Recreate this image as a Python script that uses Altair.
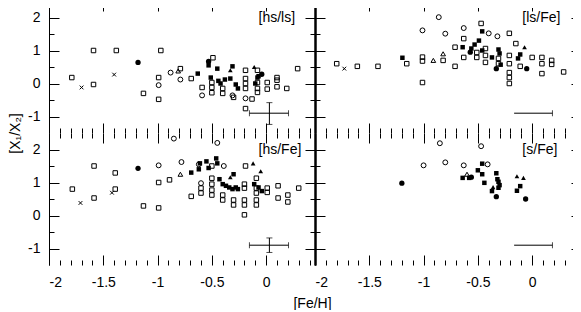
import altair as alt
import pandas as pd

FONT = "Liberation Sans"

# ---------------- data : ([Fe/H], [X1/X2]) pairs, per panel and symbol ----------------
# panel [hs/ls]
hsls_open_sq = [(-1.79, 0.18), (-1.59, 1.0), (-1.59, -0.03), (-1.38, 1.0), (-0.97, 1.0), (-1.13, -0.30),
                (-0.99, 0.18), (-0.99, -0.48), (-0.79, 0.45), (-0.69, 0.15), (-0.59, -0.12), (-0.49, 0.78),
                (-0.50, 0.03), (-0.50, -0.12), (-0.50, -0.28), (-0.40, -0.15), (-0.40, -0.30), (-0.30, -0.42),
                (-0.19, 0.40), (-0.19, 0.15), (-0.19, 0.0), (-0.19, -0.15), (-0.19, -0.76), (-0.08, 0.03),
                (-0.08, -0.15), (-0.08, -0.27), (-0.13, -0.47), (0.01, 0.03), (0.01, -0.17), (0.10, 0.18),
                (0.10, 0.10), (0.10, -0.10), (0.19, -0.15), (0.29, 0.45), (-0.08, 0.40)]
hsls_open_circ = [(-0.88, 0.33), (-0.99, -0.05), (-0.79, 0.12), (-0.59, -0.36), (-0.31, -0.36), (-0.19, -0.45)]
hsls_filled_circ = [(-1.18, 0.64), (-0.53, 0.67), (-0.04, 0.28)]
hsls_filled_sq = [(-0.63, 0.30), (-0.45, 0.45), (-0.51, 0.18), (-0.44, 0.08), (-0.42, 0.0), (-0.38, 0.12),
                  (-0.33, 0.15), (-0.28, -0.03), (-0.26, -0.15), (-0.08, 0.18), (-0.31, 0.52), (-0.53, 0.55),
                  (-0.10, 0.0), (-0.07, 0.22)]
hsls_filled_tri = [(-0.33, 0.40), (-0.11, 0.50)]
hsls_open_tri = [(-0.81, 0.38)]
hsls_cross = [(-1.70, -0.12), (-1.40, 0.27)]

# panel [ls/Fe]
lsfe_open_sq = [(-1.80, 0.60), (-1.61, 0.52), (-1.42, 0.52), (-1.155, 0.60), (-1.01, 0.80), (-1.01, 0.68),
                (-1.01, 0.03), (-0.82, 0.70), (-0.71, 0.52), (-0.71, 1.10), (-0.63, 1.36), (-0.63, 0.79),
                (-0.47, 1.82), (-0.51, 0.94), (-0.51, 0.79), (-0.43, 1.06), (-0.43, 0.85), (-0.43, 0.64),
                (-0.31, 0.76), (-0.31, 0.60), (-0.21, 1.52), (-0.21, 0.85), (-0.21, 0.60), (-0.21, 0.33),
                (-0.21, 0.18), (-0.21, 0.0), (-0.15, 1.21), (-0.11, 0.52), (0.0, 0.79), (0.09, 0.79),
                (0.09, 0.60), (0.09, 0.30), (0.18, 0.70), (0.18, 0.58), (0.29, 0.35)]
lsfe_open_circ = [(-0.86, 2.01), (-1.01, 1.61), (-0.80, 1.51), (-0.63, 1.68), (-0.40, 1.52), (-0.32, 1.43)]
lsfe_filled_circ = [(-0.57, 0.95), (-0.33, 0.45), (-0.05, 0.45)]
lsfe_filled_sq = [(-1.195, 0.78), (-0.64, 1.10), (-0.46, 1.58), (-0.49, 1.30), (-0.53, 1.18), (-0.56, 1.06),
                  (-0.46, 1.0), (-0.37, 0.79), (-0.31, 1.03), (-0.30, 0.91), (-0.29, 0.57), (-0.11, 0.88),
                  (-0.13, 0.76)]
lsfe_filled_tri = [(-0.07, 1.10)]
lsfe_open_tri = [(-0.91, 0.70), (-0.82, 0.90)]
lsfe_cross = [(-1.73, 0.45)]

# panel [hs/Fe]
hsfe_open_sq = [(-1.785, 0.8), (-1.585, 1.5), (-1.585, 0.53), (-1.39, 1.29), (-1.39, 0.8), (-1.13, 0.29),
                (-0.99, 1.0), (-0.99, 0.23), (-0.89, 1.08), (-0.69, 0.58), (-0.60, 0.83), (-0.60, 0.68),
                (-0.50, 1.5), (-0.50, 1.13), (-0.50, 0.95), (-0.50, 0.77), (-0.50, 0.62), (-0.40, 0.62),
                (-0.40, 0.47), (-0.30, 0.47), (-0.30, 0.32), (-0.19, 1.5), (-0.20, 0.95), (-0.20, 0.83),
                (-0.20, 0.47), (-0.20, 0.32), (-0.20, 0.02), (-0.09, 1.13), (-0.09, 0.83), (-0.09, 0.68),
                (-0.09, 0.47), (-0.09, 0.32), (0.01, 0.83), (0.01, 0.70), (0.11, 0.9), (0.11, 0.53),
                (0.20, 0.62), (0.20, 0.41), (0.30, 0.83)]
hsfe_open_circ = [(-0.99, 1.52), (-0.78, 1.62), (-0.85, 2.33), (-0.45, 2.2), (-0.39, 1.5), (-0.60, 0.98),
                  (-0.62, 1.55)]
hsfe_filled_circ = [(-1.18, 1.43)]
hsfe_filled_sq = [(-0.69, 1.3), (-0.62, 1.40), (-0.61, 1.58), (-0.55, 1.64), (-0.53, 1.44), (-0.46, 1.73),
                  (-0.45, 1.58), (-0.43, 1.1), (-0.40, 0.95), (-0.37, 0.9), (-0.34, 0.85), (-0.31, 0.8),
                  (-0.30, 1.25), (-0.28, 0.85), (-0.26, 0.8), (-0.11, 0.95), (-0.07, 0.85), (-0.04, 0.74)]
hsfe_filled_tri = [(-0.33, 1.16), (-0.12, 1.58), (-0.05, 1.34)]
hsfe_open_tri = [(-0.79, 1.25)]
hsfe_cross = [(-1.71, 0.38), (-1.42, 0.69)]

# panel [s/Fe]
sfe_open_circ = [(-0.85, 2.19), (-0.47, 2.1), (-1.0, 1.52), (-0.80, 1.61), (-0.63, 1.52), (-0.41, 1.55)]
sfe_filled_circ = [(-1.2, 0.98), (-0.33, 0.57), (-0.06, 0.5), (-0.56, 1.16)]
sfe_filled_sq = [(-0.46, 1.57), (-0.50, 1.37), (-0.46, 1.25), (-0.64, 1.14), (-0.58, 1.14), (-0.44, 0.99),
                 (-0.33, 1.28), (-0.32, 1.1), (-0.31, 1.02), (-0.37, 0.74), (-0.30, 0.92), (-0.31, 0.84),
                 (-0.11, 0.89), (-0.14, 0.75)]
sfe_filled_tri = [(-0.36, 0.86), (-0.14, 1.19), (-0.08, 1.14)]
sfe_open_tri = [(-0.60, 1.25)]

# typical error bars: (x_left, x_right, y, x_center, y_low, y_high)
err_hsls = (-0.154, 0.206, -0.9, 0.03, -1.24, -0.58)
err_hsfe = (-0.154, 0.206, -0.9, 0.03, -1.12, -0.68)
err_lsfe = (-0.166, 0.187, -0.9)
err_sfe = (-0.166, 0.187, -0.9)

panel_labels = ["[hs/ls]", "[ls/Fe]", "[hs/Fe]", "[s/Fe]"]
label_pos = [(-0.07, 2.0), (-0.09, 2.0), (-0.07, 2.0), (-0.09, 2.0)]

x_major = [-2, -1.5, -1, -0.5, 0]
x_minor = [-1.9, -1.8, -1.7, -1.6, -1.4, -1.3, -1.2, -1.1, -0.9, -0.8, -0.7, -0.6,
           -0.4, -0.3, -0.2, -0.1, 0.1, 0.2, 0.3, 0.4]
y_major = [-1, 0, 1, 2]
y_minor = [-0.5, 0.5, 1.5]
X_DOMAIN = [-2, 0.45]
Y_DOMAIN = [-1.5, 2.5]
W, H = 266, 132

SYMBOLS = {
    "open_sq": dict(shape="square", filled=False, size=20),
    "filled_sq": dict(shape="square", filled=True, size=20),
    "open_circ": dict(shape="circle", filled=False, size=24),
    "filled_circ": dict(shape="circle", filled=True, size=28),
    "filled_tri": dict(shape="triangle-up", filled=True, size=22),
    "open_tri": dict(shape="triangle-up", filled=False, size=22),
    "cross": dict(shape="M-1,-1L1,1M1,-1L-1,1", filled=False, size=14),
}


def tick_axis(orient, values, size, labels=False, **kw):
    title = kw.pop("title", None)
    return alt.Axis(orient=orient, values=values, tickSize=size, offset=-size, ticks=True,
                    labels=labels, domain=False, grid=False, title=title,
                    tickColor="black", tickWidth=1, labelFont=FONT, labelFontSize=14, labelColor="black",
                    labelExpr="'' + datum.value", **kw)


def dom_axis(orient, width, **kw):
    title = kw.pop("title", None)
    return alt.Axis(orient=orient, ticks=False, labels=False, domain=True, grid=False,
                    domainColor="black", domainWidth=width, title=title, **kw)


def panel(sym_pts, label, lpos, err, xlabels, ylabels, left_w, right_w, ytitle=False, xtitle=False):
    xs = alt.Scale(domain=X_DOMAIN, nice=False, zero=False)
    ys = alt.Scale(domain=Y_DOMAIN, nice=False, zero=False)
    dummy = pd.DataFrame({"x": [X_DOMAIN[0]], "y": [Y_DOMAIN[0]]})

    xb_kw = {}
    if xtitle:
        xb_kw = dict(title="[Fe/H]", titleX=263, titleY=48, titleAlign="center", titleBaseline="middle",
                     titleFont=FONT, titleFontSize=14, titleFontWeight="normal", titleColor="black")
    yl_kw = {}
    if ytitle:
        yl_kw = dict(title="[X\u2081/X\u2082]", titleX=-34, titleY=H, titleAngle=270, titleAlign="center",
                     titleBaseline="middle", titleFont=FONT, titleFontSize=14, titleFontWeight="normal",
                     titleColor="black")

    axis_pairs = [
        (tick_axis("bottom", x_major, 10, labels=xlabels, labelPadding=10, **xb_kw),
         tick_axis("left", y_major, 10, labels=ylabels, labelPadding=9)),
        (tick_axis("bottom", x_minor, 5), tick_axis("left", y_minor, 5)),
        (tick_axis("top", x_major, 10), tick_axis("right", y_major, 10)),
        (tick_axis("top", x_minor, 5), tick_axis("right", y_minor, 5)),
        (None, dom_axis("left", left_w, **yl_kw)),
    ]
    if right_w:
        axis_pairs.append((None, dom_axis("right", right_w)))

    layers = []
    for xa, ya in axis_pairs:
        layers.append(alt.Chart(dummy).mark_point(opacity=0).encode(
            x=alt.X("x:Q", scale=xs, axis=xa), y=alt.Y("y:Q", scale=ys, axis=ya)))

    # error bars
    hx1, hx2, hy = err[0], err[1], err[2]
    eh = pd.DataFrame({"x": [hx1], "x2": [hx2], "y": [hy]})
    layers.append(alt.Chart(eh).mark_rule(color="black", strokeWidth=1).encode(
        x=alt.X("x:Q", scale=xs, axis=None), x2="x2:Q", y=alt.Y("y:Q", scale=ys, axis=None)))
    if len(err) > 3:
        caps = pd.DataFrame({"x": [hx1, hx2], "y": [hy, hy]})
        vx, vy1, vy2 = err[3], err[4], err[5]
        ev = pd.DataFrame({"x": [vx], "y": [vy1], "y2": [vy2]})
        layers.append(alt.Chart(ev).mark_rule(color="black", strokeWidth=1).encode(
            x=alt.X("x:Q", scale=xs, axis=None), y=alt.Y("y:Q", scale=ys, axis=None), y2="y2:Q"))
        hcaps = pd.DataFrame({"x": [vx, vx], "y": [vy1, vy2]})
        layers.append(alt.Chart(hcaps).mark_tick(orient="horizontal", color="black", thickness=1, size=6).encode(
            x=alt.X("x:Q", scale=xs, axis=None), y=alt.Y("y:Q", scale=ys, axis=None)))
    else:
        caps = pd.DataFrame({"x": [hx2], "y": [hy]})
    layers.append(alt.Chart(caps).mark_tick(orient="vertical", color="black", thickness=1, size=6).encode(
        x=alt.X("x:Q", scale=xs, axis=None), y=alt.Y("y:Q", scale=ys, axis=None)))

    # panel label
    lab = pd.DataFrame({"x": [lpos[0]], "y": [lpos[1]], "t": [label]})
    layers.append(alt.Chart(lab).mark_text(align="left", baseline="middle", font=FONT, fontSize=14,
                                           color="black").encode(
        x=alt.X("x:Q", scale=xs, axis=None), y=alt.Y("y:Q", scale=ys, axis=None), text="t:N"))

    # data points
    for kind, pts in sym_pts.items():
        if not pts:
            continue
        s = SYMBOLS[kind]
        df = pd.DataFrame(pts, columns=["x", "y"])
        layers.append(alt.Chart(df).mark_point(shape=s["shape"], filled=s["filled"], size=s["size"],
                                               color="black", opacity=1, strokeWidth=1).encode(
            x=alt.X("x:Q", scale=xs, axis=None), y=alt.Y("y:Q", scale=ys, axis=None)))

    return alt.layer(*layers).resolve_axis(x="independent", y="independent").properties(width=W, height=H)


tl = panel({"open_sq": hsls_open_sq, "open_circ": hsls_open_circ, "open_tri": hsls_open_tri,
            "cross": hsls_cross, "filled_sq": hsls_filled_sq, "filled_circ": hsls_filled_circ,
            "filled_tri": hsls_filled_tri},
           panel_labels[0], label_pos[0], err_hsls, False, True, 1, 2, ytitle=True)
tr = panel({"open_sq": lsfe_open_sq, "open_circ": lsfe_open_circ, "open_tri": lsfe_open_tri,
            "cross": lsfe_cross, "filled_sq": lsfe_filled_sq, "filled_circ": lsfe_filled_circ,
            "filled_tri": lsfe_filled_tri},
           panel_labels[1], label_pos[1], err_lsfe, False, False, 2, 0)
bl = panel({"open_sq": hsfe_open_sq, "open_circ": hsfe_open_circ, "open_tri": hsfe_open_tri,
            "cross": hsfe_cross, "filled_sq": hsfe_filled_sq, "filled_circ": hsfe_filled_circ,
            "filled_tri": hsfe_filled_tri},
           panel_labels[2], label_pos[2], err_hsfe, True, True, 1, 2, xtitle=True)
br = panel({"open_circ": sfe_open_circ, "open_tri": sfe_open_tri, "filled_sq": sfe_filled_sq,
            "filled_circ": sfe_filled_circ, "filled_tri": sfe_filled_tri},
           panel_labels[3], label_pos[3], err_sfe, True, False, 2, 0)

chart = alt.concat(tl, tr, bl, br, columns=2, spacing=0, bounds="flush").properties(
    padding={"left": 0, "top": -8, "right": -9, "bottom": 0},
    background="white",
).configure_view(stroke=None)

chart.save("out.html", embed_options={"renderer": "svg", "actions": False})
